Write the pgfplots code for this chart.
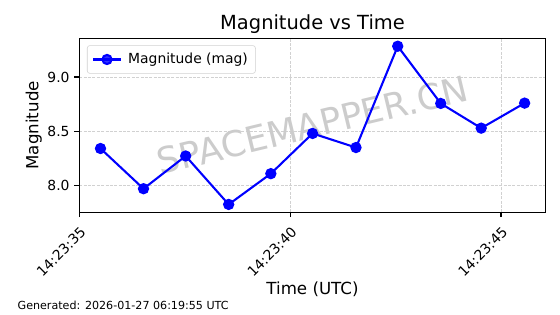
\documentclass[border=0pt]{standalone}
\usepackage{fontspec}
\setmainfont{DejaVu Sans}
\usepackage{pgfplots}
\pgfplotsset{compat=1.18}
\begin{document}
\begin{tikzpicture}
\useasboundingbox (0,0) rectangle (403.2pt,226.08pt);
\begin{axis}[
  at={(57.1pt,73.2pt)}, anchor=south west,
  scale only axis, width=335.8pt, height=125.3pt,
  xmin=34.997, xmax=46.06, ymin=7.751, ymax=9.357,
  xtick={35,40,45}, xticklabels={14:23:35,14:23:40,14:23:45},
  ytick={8.0,8.5,9.0},
  yticklabel style={/pgf/number format/.cd, fixed, fixed zerofill, precision=1},
  /pgf/number format/assume math mode=true,
  tick align=outside, major tick length=3.5pt,
  tick style={black, line width=0.8pt},
  xtick pos=bottom, ytick pos=left,
  axis line style={line width=0.8pt},
  ticklabel style={font=\fontsize{10}{12}\selectfont},
  xticklabel style={rotate=45, anchor=north east, xshift=-1pt, yshift=-1pt},
  grid=major,
  major grid style={black!18, line width=0.6pt, dash pattern=on 2.2pt off 0.95pt},
  legend style={at={(0,1)}, anchor=north west, xshift=5.5pt, yshift=-5pt,
    draw=black!18, rounded corners=2pt, fill=white, fill opacity=0.8, text opacity=1,
    inner xsep=3.5pt, inner ysep=3.5pt, font=\fontsize{10}{12}\selectfont,
    /tikz/every odd column/.append style={column sep=2.5pt}},
  legend cell align=left,
  legend image code/.code={\draw[mark repeat=2,mark phase=2] plot coordinates {(0pt,0pt) (10pt,0pt) (20pt,0pt)};},
]
\node[rotate=13.5, text=black!20, font=\fontsize{25.5}{30}\selectfont] at (rel axis cs:0.5,0.5) {SPACEMAPPER.CN};
\addplot[color=blue, line width=1.5pt, mark=*, mark size=3.3pt, mark options={solid}] coordinates {
(35.50,8.340) (36.52,7.969) (37.52,8.271) (38.54,7.824) (39.54,8.108) (40.53,8.479)
(41.56,8.349) (42.55,9.284) (43.57,8.756) (44.53,8.528) (45.56,8.759)
};
\addlegendentry{Magnitude (mag)}
\end{axis}
\node[anchor=base, font=\fontsize{14}{17}\selectfont] at (225pt,204.5pt) {Magnitude vs Time};
\node[anchor=base, font=\fontsize{12}{14}\selectfont] at (225pt,14.4pt) {Time (UTC)};
\node[anchor=base, rotate=90, font=\fontsize{12}{14}\selectfont] at (27.7pt,135.9pt) {Magnitude};
\node[anchor=base west, inner sep=0pt, font=\fontsize{8}{10}\selectfont] at (12.5pt,3.6pt) {Generated: 2026-01-27 06:19:55 UTC};
\end{tikzpicture}
\end{document}
